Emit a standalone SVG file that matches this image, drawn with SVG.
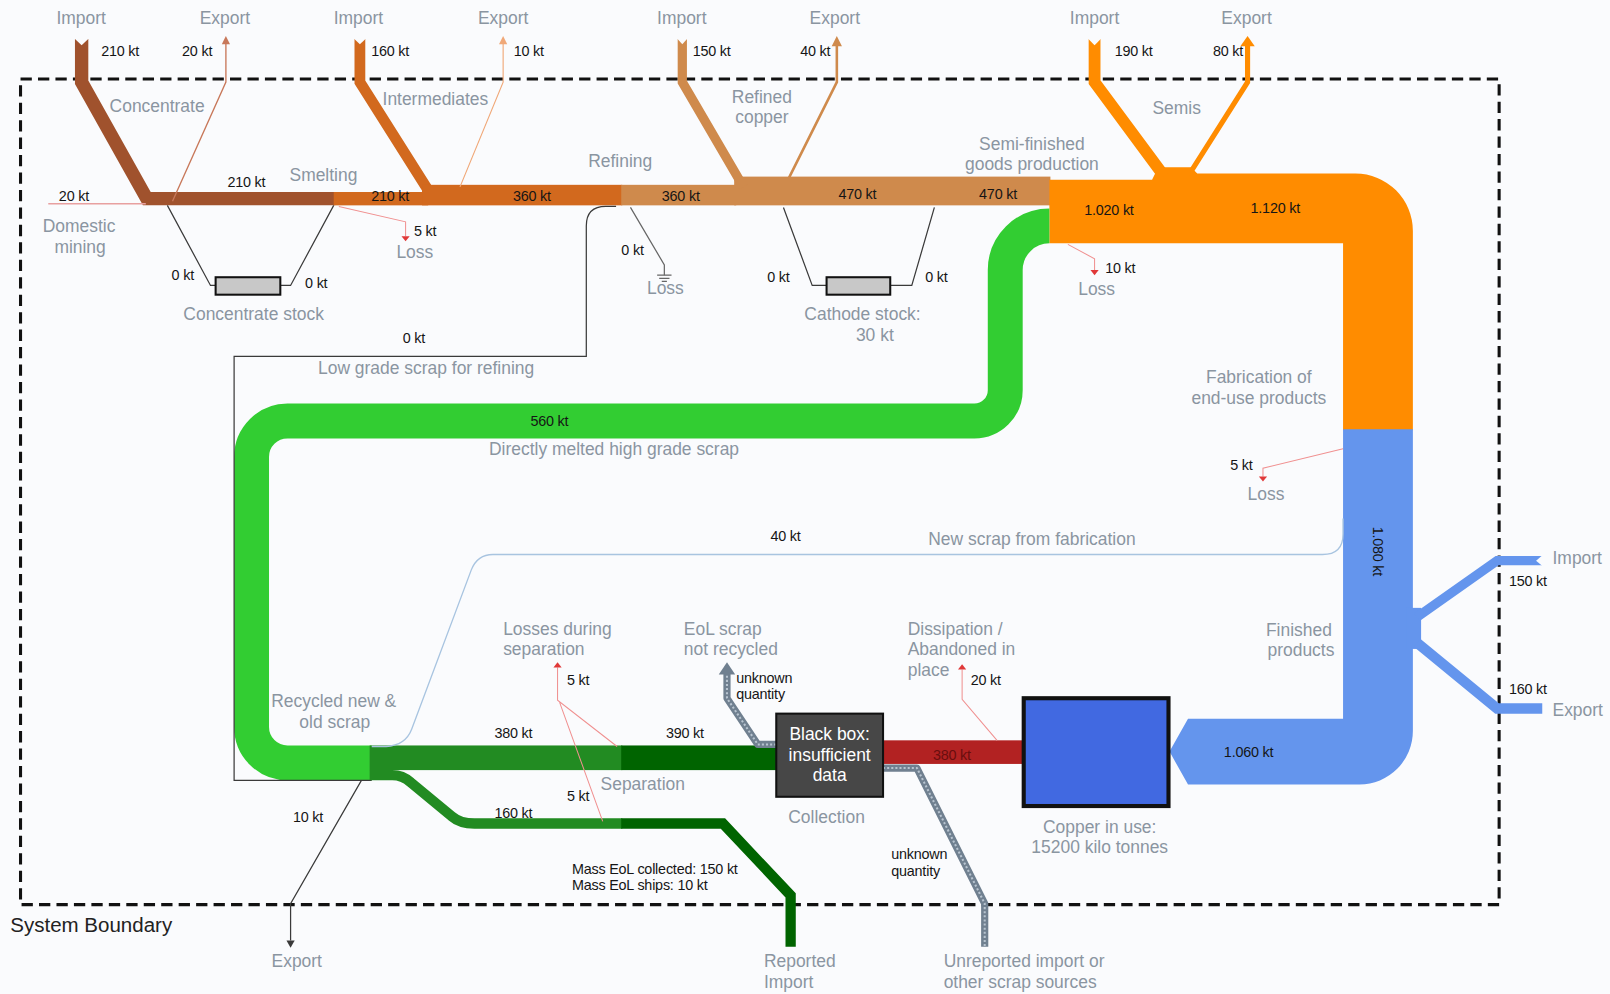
<svg xmlns="http://www.w3.org/2000/svg" width="1610" height="994" viewBox="0 0 1610 994">
<style>
text{font-family:"Liberation Sans",Arial,sans-serif}
.l{font-size:17px;fill:#8a95a1;text-anchor:middle}
.ls{font-size:17px;fill:#8a95a1}
.v{font-size:14px;fill:#151515;text-anchor:middle;letter-spacing:-0.2px}
.vs{font-size:14px;fill:#151515;letter-spacing:-0.2px}
.thin{fill:none;stroke:#3a3a3a;stroke-width:1.2}
.pink{fill:none;stroke:#f09090;stroke-width:1}
.band{fill:none;stroke-linejoin:miter;stroke-miterlimit:10}
.bg{fill:#fafbfd}
.redtip{fill:#e03838}
.dots{fill:none;stroke:#708090;stroke-width:7;stroke-linejoin:round}
.dotsin{fill:none;stroke:#b8c4d0;stroke-width:2;stroke-dasharray:2 2;stroke-linejoin:round}
.wt{font-size:17px;fill:#fff;text-anchor:middle}
</style>
<rect width="1610" height="994" fill="#fafbfd"/>
<g transform="scale(1.0268)">
<g id="boundary">
<rect x="20" y="77" width="1440" height="804" fill="none" stroke="#111" stroke-width="3" stroke-dasharray="11 6"/>
<text x="10" y="908" style="font-size:20px;fill:#222">System Boundary</text>
</g>

<g id="connectors">
<!-- concentrate -->
<path class="band" d="M79.5,38 V80 L143,193.5 H326" stroke="#a0522d" stroke-width="13"/>
<polygon class="bg" points="72,37 87,37 79.5,44"/>
<!-- smelting out -->
<rect x="325" y="187" width="92" height="13" fill="#d2691e"/>
<path class="band" d="M350.5,38 V80 L420,190" stroke="#d2691e" stroke-width="10.5"/>
<polygon class="bg" points="344,37 357,37 350.5,43"/>
<rect x="411" y="180" width="195" height="20" fill="#d2691e"/>
<!-- refining -->
<rect x="605" y="180" width="112" height="20" fill="#cf8a4c"/>
<rect x="715" y="172" width="308" height="28" fill="#cf8a4c"/>
<path class="band" d="M664.5,38 V80 L724,182" stroke="#cf8a4c" stroke-width="9"/>
<polygon class="bg" points="659,37 670,37 664.5,43"/>
<!-- semis -->
<path d="M1022,175 H1122 L1128,163 H1160 L1166,169 H1320 A56,56 0 0 1 1376,225 V419 H1308 V237 H1022 Z" fill="#ff8c00"/>
<path class="band" d="M1066,38 V80 L1134,172" stroke="#ff8c00" stroke-width="11.5"/>
<polygon class="bg" points="1059,37 1073,37 1066,44"/>
<path class="band" d="M1158,170 L1215,80 V44" stroke="#ff8c00" stroke-width="5"/>
<polygon points="1208,45 1222,45 1215,35" fill="#ff8c00"/>
<!-- finished products -->
<path d="M1308,418 H1376 V712 A52,52 0 0 1 1324,764 H1157 L1139,732 L1157,700 H1308 Z" fill="#6495ed"/>
<rect x="1370" y="592" width="14" height="40" fill="#6495ed"/>
<path class="band" d="M1380,601 L1458,546 H1502" stroke="#6495ed" stroke-width="9"/>
<polygon class="bg" points="1503,540 1503,552 1496,546"/>
<path class="band" d="M1380,626 L1458,690 H1502" stroke="#6495ed" stroke-width="10"/>
<!-- green directly melted scrap -->
<path class="band" d="M1022,220 A43,43 0 0 0 979,263 V380 A30,30 0 0 1 949,410 H280 A35,35 0 0 0 245,445 V708 A35,35 0 0 0 280,743 H362" stroke="#32cd32" stroke-width="34"/>
<!-- low grade scrap for refining -->
<path class="thin" d="M600,201 H590 Q571,201 571,220 V347 H228 V760 H362"/>
<!-- separation bands -->
<rect x="360" y="726" width="246" height="24" fill="#228b22"/>
<rect x="605" y="726" width="151" height="24" fill="#006400"/>
<path class="band" d="M360,755 H382 Q392,755 400,762 L440,795 Q448,802 462,802 H606" stroke="#228b22" stroke-width="10"/>
<path class="band" d="M605,802 H704 L770,872 V922" stroke="#006400" stroke-width="10"/>
<!-- collection to use -->
<rect x="860" y="721" width="137" height="23" fill="#b22222"/>
<!-- exports thin -->
<path d="M168,196 L220,80 V42" fill="none" stroke="#c8785a" stroke-width="1.3"/>
<polygon points="216,43 224,43 220,35" fill="#c8785a"/>
<path d="M448,182 L490,80 V42" fill="none" stroke="#f0a878" stroke-width="1.1"/>
<polygon points="486,43 494,43 490,35" fill="#f0a878"/>
<path d="M768,174 L815,80 V44" fill="none" stroke="#cf8a4c" stroke-width="2.5"/>
<polygon points="810,45 820,45 815,35" fill="#cf8a4c"/>
<!-- domestic mining -->
<path d="M47,198.5 H142" fill="none" stroke="#e8a0a0" stroke-width="1.5"/>
<!-- losses -->
<path class="pink" d="M330,201 L395,216 V230"/>
<polygon class="redtip" points="391,230 399,230 395,235"/>
<path d="M614,202 L647,258 V268" fill="none" stroke="#666" stroke-width="1.2"/>
<path d="M640,268 H654 M642,271 H652 M644.5,274 H649.5" fill="none" stroke="#666" stroke-width="1.2"/>
<path class="pink" d="M1040,238 L1066,252 V263"/>
<polygon class="redtip" points="1062,263 1070,263 1066,268"/>
<path class="pink" d="M1308,437 L1230,456 V464"/>
<polygon class="redtip" points="1226,464 1234,464 1230,469"/>
<!-- new scrap from fabrication -->
<path d="M1308,505 V520 Q1308,540 1288,540 H480 Q465,540 459,555 L401,710 Q395,726 376,727 H362" fill="none" stroke="#a8c4e0" stroke-width="1.3"/>
<!-- separation losses -->
<path class="pink" d="M543,650 V682 L601,727 M545,684 L587,800"/>
<polygon class="redtip" points="539,650 547,650 543,645"/>
<!-- dissipation -->
<path class="pink" d="M971,721 L937,681 V652"/>
<polygon class="redtip" points="933,652 941,652 937,647"/>
<!-- EoL scrap not recycled -->
<path class="dots" d="M756,725 H738 L708,680 V656"/>
<path class="dotsin" d="M756,725 H738 L708,680 V656"/>
<polygon points="700,657 716,657 708,645" fill="#708090"/>
<!-- unreported import -->
<path class="dots" d="M860,748 H893 L959,880 V922"/>
<path class="dotsin" d="M860,748 H893 L959,880 V922"/>
<!-- 10 kt export -->
<path class="thin" d="M352,760 L283,880 V916"/>
<polygon points="279,916 287,916 283,923" fill="#3a3a3a"/>
<!-- stock links -->
<path class="thin" d="M163,200 L205,278 H211 M273,278 H283 L325,200"/>
<path class="thin" d="M763,202 L791,278 H806 M867,278 H888 L910,202"/>
</g>

<g id="concentrate-stock">
<rect x="210" y="270" width="63" height="17" fill="#c8c8c8" stroke="#111" stroke-width="2"/>
<text class="l" x="247" y="312">Concentrate stock</text>
</g>
<g id="cathode-stock">
<rect x="805" y="270" width="62" height="17" fill="#c8c8c8" stroke="#111" stroke-width="2"/>
<text class="l" x="840" y="312">Cathode stock:</text>
<text class="l" x="852" y="332">30  kt</text>
</g>
<g id="black-box">
<rect x="756" y="695" width="104" height="81" fill="#474747" stroke="#111" stroke-width="2"/>
<text class="wt" x="808" y="721">Black box:</text>
<text class="wt" x="808" y="741">insufficient</text>
<text class="wt" x="808" y="761">data</text>
<text class="l" x="805" y="802">Collection</text>
</g>
<g id="copper-in-use">
<rect x="997" y="680" width="141" height="105" fill="#4169e1" stroke="#111" stroke-width="4"/>
<text class="l" x="1071" y="811">Copper in use:</text>
<text class="l" x="1071" y="831">15200 kilo tonnes</text>
</g>

<g id="labels">
<text class="l" x="79" y="23">Import</text>
<text class="l" x="219" y="23">Export</text>
<text class="l" x="349" y="23">Import</text>
<text class="l" x="490" y="23">Export</text>
<text class="l" x="664" y="23">Import</text>
<text class="l" x="813" y="23">Export</text>
<text class="l" x="1066" y="23">Import</text>
<text class="l" x="1214" y="23">Export</text>
<text class="l" x="153" y="109">Concentrate</text>
<text class="l" x="424" y="102">Intermediates</text>
<text class="l" x="742" y="100">Refined</text>
<text class="l" x="742" y="120">copper</text>
<text class="l" x="1146" y="111">Semis</text>
<text class="l" x="315" y="176">Smelting</text>
<text class="l" x="604" y="163">Refining</text>
<text class="l" x="1005" y="146">Semi-finished</text>
<text class="l" x="1005" y="166">goods production</text>
<text class="l" x="77" y="226">Domestic</text>
<text class="l" x="78" y="246">mining</text>
<text class="l" x="404" y="251">Loss</text>
<text class="l" x="648" y="286">Loss</text>
<text class="l" x="1068" y="287">Loss</text>
<text class="l" x="415" y="364">Low grade scrap for refining</text>
<text class="l" x="1226" y="373">Fabrication of</text>
<text class="l" x="1226" y="393">end-use products</text>
<text class="l" x="598" y="443">Directly melted high grade scrap</text>
<text class="l" x="1233" y="487">Loss</text>
<text class="l" x="1005" y="531">New scrap from fabrication</text>
<text class="ls" x="490" y="618">Losses during</text>
<text class="ls" x="490" y="638">separation</text>
<text class="ls" x="666" y="618">EoL scrap</text>
<text class="ls" x="666" y="638">not recycled</text>
<text class="ls" x="884" y="618">Dissipation /</text>
<text class="ls" x="884" y="638">Abandoned in</text>
<text class="ls" x="884" y="658">place</text>
<text class="l" x="1265" y="619">Finished</text>
<text class="l" x="1267" y="639">products</text>
<text class="l" x="325" y="689">Recycled new &amp;</text>
<text class="l" x="326" y="709">old scrap</text>
<text class="l" x="626" y="769">Separation</text>
<text class="ls" x="1512" y="549">Import</text>
<text class="ls" x="1512" y="697">Export</text>
<text class="l" x="289" y="942">Export</text>
<text class="ls" x="744" y="942">Reported</text>
<text class="ls" x="744" y="962">Import</text>
<text class="ls" x="919" y="942">Unreported import or</text>
<text class="ls" x="919" y="962">other scrap sources</text>
</g>

<g id="values">
<text class="v" x="117" y="55">210 kt</text>
<text class="v" x="192" y="55">20 kt</text>
<text class="v" x="380" y="55">160 kt</text>
<text class="v" x="515" y="55">10 kt</text>
<text class="v" x="693" y="55">150 kt</text>
<text class="v" x="794" y="55">40 kt</text>
<text class="v" x="1104" y="55">190 kt</text>
<text class="v" x="1196" y="55">80 kt</text>
<text class="v" x="72" y="196">20 kt</text>
<text class="v" x="240" y="182">210 kt</text>
<text class="v" x="380" y="196">210 kt</text>
<text class="v" x="518" y="196">360 kt</text>
<text class="v" x="663" y="196">360 kt</text>
<text class="v" x="835" y="194">470 kt</text>
<text class="v" x="972" y="194">470 kt</text>
<text class="v" x="1080" y="209">1.020 kt</text>
<text class="v" x="1242" y="207">1.120 kt</text>
<text class="v" x="414" y="230">5 kt</text>
<text class="v" x="178" y="273">0 kt</text>
<text class="v" x="308" y="280">0 kt</text>
<text class="v" x="616" y="248">0 kt</text>
<text class="v" x="758" y="275">0 kt</text>
<text class="v" x="912" y="275">0 kt</text>
<text class="v" x="1091" y="266">10 kt</text>
<text class="v" x="403" y="334">0 kt</text>
<text class="v" x="535" y="415">560 kt</text>
<text class="v" x="1209" y="458">5 kt</text>
<text class="v" x="765" y="527">40 kt</text>
<text class="v" x="1337" y="537" transform="rotate(90 1337 537)">1.080 kt</text>
<text class="v" x="1488" y="571">150 kt</text>
<text class="v" x="1488" y="676">160 kt</text>
<text class="v" x="563" y="667">5 kt</text>
<text class="vs" x="717" y="665">unknown</text>
<text class="vs" x="717" y="681">quantity</text>
<text class="v" x="960" y="667">20 kt</text>
<text class="v" x="500" y="719">380 kt</text>
<text class="v" x="667" y="719">390 kt</text>
<text class="v" x="927" y="740" style="fill:#6a0e0e">380 kt</text>
<text class="v" x="1216" y="737">1.060 kt</text>
<text class="v" x="563" y="780">5 kt</text>
<text class="v" x="300" y="801">10 kt</text>
<text class="v" x="500" y="797">160 kt</text>
<text class="vs" x="557" y="851">Mass EoL collected: 150 kt</text>
<text class="vs" x="557" y="867">Mass EoL ships: 10 kt</text>
<text class="vs" x="868" y="837">unknown</text>
<text class="vs" x="868" y="853">quantity</text>
</g>
</g>
</svg>
